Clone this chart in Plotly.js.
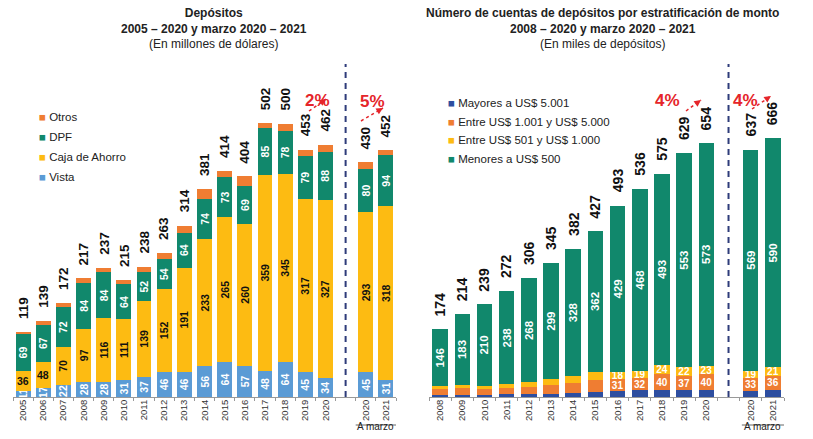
<!DOCTYPE html>
<html>
<head>
<meta charset="utf-8">
<script src="https://cdn.plot.ly/plotly-3.0.1.min.js"></script>
<style>html,body{margin:0;padding:0;background:#fff;}#chart{width:813px;height:439px;}</style>
</head>
<body>
<div id="chart"></div>
<script>
// ---------- Data: Depósitos (millones de dólares) ----------
const depYears = ['2005','2006','2007','2008','2009','2010','2011','2012','2013','2014','2015','2016','2017','2018','2019','2020'];
const depMarzo = ['Mar 2020','Mar 2021'];
const depMarzoLabels = ['2020','2021'];
const vista   = [11,17,22,28,28,31,37,46,46,56,64,57,48,64,45,34, 45,31];
const caja    = [36,48,70,97,116,111,139,152,191,233,265,260,359,345,317,327, 293,318];
const dpf     = [69,67,72,84,84,64,52,54,64,74,73,69,85,78,79,88, 80,94];
const otros   = [3,7,8,8,9,9,10,11,13,18,12,18,10,13,12,13, 12,9];
const depTotals = [119,139,172,217,237,215,238,263,314,381,414,404,502,500,453,462, 430,452];
const depHorizontal = ['2005','2006'];   // Caja labels drawn horizontally
const depGrowth = ['2%','5%'];

// ---------- Data: Número de cuentas (miles) ----------
const accYears = ['2008','2009','2010','2011','2012','2013','2014','2015','2016','2017','2018','2019','2020'];
const accMarzo = ['Mar 2020','Mar 2021'];
const accMarzoLabels = ['2020','2021'];
const mayores   = [6,6,6,7,7,9,10,12,15,17,18,17,18, 16,19];
const entre1001 = [14,16,15,17,19,22,26,32,31,32,40,37,40, 33,36];
const entre501  = [8,9,8,10,12,15,18,21,18,19,24,22,23, 19,21];
const menores   = [146,183,210,238,268,299,328,362,429,468,493,553,573, 569,590];
const accTotals = [174,214,239,272,306,345,382,427,493,536,575,629,654, 637,666];
const accFirstSmallLabel = 8; // small segment labels shown from 2016 on
const accGrowth = ['4%','4%'];

// ---------- Style ----------
const FONT = '"Liberation Sans", Arial, sans-serif';
const C = {teal:'#11886c', yellow:'#fdbb12', orange:'#ef7d32', vista:'#5b9bd5', navy:'#2d4ea0', red:'#e5252a', dash:'#2e3c7a'};
const W = 813, H = 439;
const px = x => x / W, py = y => 1 - y / H;

const GAP = ' ';
const depX = depYears.concat(depMarzo);
const depCats = depYears.concat([GAP], depMarzo);
const depTick = depYears.concat([''], depMarzoLabels);
const accX = accYears.concat(accMarzo);
const accCats = accYears.concat([GAP], accMarzo);
const accTick = accYears.concat([''], accMarzoLabels);

function bar(name, x, y, color, axes, opts) {
  return Object.assign({
    type:'bar', name, x, y, xaxis:axes[0], yaxis:axes[1],
    marker:{color, line:{width:0}}, showlegend:false,
    textposition:'inside', insidetextanchor:'middle', constraintext:'none',
    hoverinfo:'skip'
  }, opts || {});
}
const bfont = (size, color) => ({family:FONT, size, color, weight:'bold'});

const cajaText = depX.map((c,i) => depHorizontal.includes(c) ? '' : String(caja[i]));
const traces = [
  bar('Vista', depX, vista, C.vista, ['x','y'], {text:vista.map(String), textangle:-90, insidetextfont:bfont(10.5,'#fff'), width:0.74}),
  bar('Caja de Ahorro', depX, caja, C.yellow, ['x','y'], {text:cajaText, textangle:-90, insidetextfont:bfont(10.5,'#111'), width:0.74}),
  bar('DPF', depX, dpf, C.teal, ['x','y'], {text:dpf.map(String), textangle:-90, insidetextfont:bfont(10.5,'#fff'), width:0.74}),
  bar('Otros', depX, otros, C.orange, ['x','y'], {width:0.74}),

  bar('Mayores a US$ 5.001', accX, mayores, C.navy, ['x2','y2'], {width:0.7}),
  bar('Entre US$ 1.001 y US$ 5.000', accX, entre1001, C.orange, ['x2','y2'], {text:entre1001.map((v,i)=> i>=accFirstSmallLabel ? String(v) : ''), textangle:0, insidetextfont:bfont(10,'#fff'), width:0.7}),
  bar('Entre US$ 501 y US$ 1.000', accX, entre501, C.yellow, ['x2','y2'], {text:entre501.map((v,i)=> i>=accFirstSmallLabel ? String(v) : ''), textangle:0, insidetextfont:bfont(10,'#fff'), width:0.7}),
  bar('Menores a US$ 500', accX, menores, C.teal, ['x2','y2'], {text:menores.map(String), textangle:-90, insidetextfont:bfont(11.5,'#fff'), width:0.7})
];

const annotations = [];
// totals (category index used for x)
depX.forEach((c,i) => annotations.push({xref:'x', yref:'y', x:depCats.indexOf(c), y:depTotals[i], text:String(depTotals[i]), textangle:-90, yanchor:'bottom', xanchor:'center', yshift:11, showarrow:false, font:bfont(13.5,'#111')}));
accX.forEach((c,i) => annotations.push({xref:'x2', yref:'y2', x:accCats.indexOf(c), y:accTotals[i], text:String(accTotals[i]), textangle:-90, yanchor:'bottom', xanchor:'center', yshift:11, showarrow:false, font:bfont(14,'#111')}));
// horizontal caja labels
depX.forEach((c,i) => { if (depHorizontal.includes(c)) annotations.push({xref:'x', yref:'y', x:depCats.indexOf(c), y:vista[i] + caja[i]/2, text:String(caja[i]), showarrow:false, font:bfont(10.5,'#111')}); });

// titles
annotations.push({xref:'paper', yref:'paper', x:px(214), y:py(4), xanchor:'center', yanchor:'top', showarrow:false, align:'center',
  text:'<b>Depósitos</b><br><b>2005 – 2020 y marzo 2020 – 2021</b><br>(En millones de dólares)', font:{family:FONT, size:12, color:'#222'}});
annotations.push({xref:'paper', yref:'paper', x:px(602), y:py(4), xanchor:'center', yanchor:'top', showarrow:false, align:'center',
  text:'<b>Número de cuentas de depósitos por estratificación de monto</b><br><b>2008 – 2020 y marzo 2020 – 2021</b><br>(En miles de depósitos)', font:{family:FONT, size:12, color:'#222'}});

// legends
const depLegend = [['Otros', C.orange], ['DPF', C.teal], ['Caja de Ahorro', C.yellow], ['Vista', C.vista]];
depLegend.forEach((d,k) => annotations.push({xref:'paper', yref:'paper', x:px(37), y:py(117 + k*20), xanchor:'left', yanchor:'middle', showarrow:false,
  text:'<span style="color:'+d[1]+'">■</span> '+d[0], font:{family:FONT, size:11.5, color:'#222'}}));
const accLegend = [['Mayores a US$ 5.001', C.navy], ['Entre US$ 1.001 y US$ 5.000', C.orange], ['Entre US$ 501 y US$ 1.000', C.yellow], ['Menores a US$ 500', C.teal]];
accLegend.forEach((d,k) => annotations.push({xref:'paper', yref:'paper', x:px(446), y:py(103 + k*18.5), xanchor:'left', yanchor:'middle', showarrow:false,
  text:'<span style="color:'+d[1]+'">■</span> '+d[0], font:{family:FONT, size:11.5, color:'#222'}}));

// A marzo
annotations.push({xref:'x', yref:'paper', x:17.5, y:py(433.5), text:'A marzo', showarrow:false, font:{family:FONT, size:10, color:'#222'}});
annotations.push({xref:'x2', yref:'paper', x:14.55, y:py(434), text:'A marzo', showarrow:false, font:{family:FONT, size:10, color:'#222'}});

// growth labels with dotted arrows
const growth = [
  {t:depGrowth[0], cx:317, cy:89, tail:[309,111], head:[326,99]},
  {t:depGrowth[1], cx:372, cy:90, tail:[361,121], head:[383,108]},
  {t:accGrowth[0], cx:682, cy:89, tail:[686,111], head:[701,100]},
  {t:accGrowth[1], cx:760, cy:89, tail:[752,109], head:[771,96]}
];
const shapes = [];
growth.forEach(g => {
  annotations.push({xref:'paper', yref:'paper', x:px(g.cx), y:py(g.cy), text:'<b>'+g.t+'</b>', showarrow:false, font:bfont(17, C.red)});
  shapes.push({type:'line', xref:'paper', yref:'paper', x0:px(g.tail[0]), y0:py(g.tail[1]), x1:px(g.head[0]), y1:py(g.head[1]), line:{color:C.red, width:1.5, dash:'dot'}});
  const dx = g.tail[0]-g.head[0], dy = g.tail[1]-g.head[1], L = Math.hypot(dx,dy);
  annotations.push({xref:'paper', yref:'paper', x:px(g.head[0]), y:py(g.head[1]), text:'', showarrow:true, arrowhead:2, arrowsize:0.9, arrowwidth:1.5, arrowcolor:C.red, ax:dx/L*5, ay:dy/L*5});
});

// dashed separators
shapes.push({type:'line', xref:'x', yref:'paper', x0:GAP, x1:GAP, y0:py(397), y1:py(64), line:{color:C.dash, width:2, dash:'6px,5px'}});
shapes.push({type:'line', xref:'x2', yref:'paper', x0:GAP, x1:GAP, y0:py(397), y1:py(64), line:{color:C.dash, width:2, dash:'6px,5px'}});
// A marzo lines
shapes.push({type:'line', xref:'x', yref:'paper', x0:16.5, x1:18.5, y0:py(425), y1:py(425), line:{color:'#666', width:1}});
shapes.push({type:'line', xref:'x2', yref:'paper', x0:13.6, x1:15.5, y0:py(425), y1:py(425), line:{color:'#666', width:1}});

function xaxisCfg(domain, cats, ticks) {
  return {domain, type:'category', categoryorder:'array', categoryarray:cats, tickmode:'array', tickvals:cats, ticktext:ticks,
    range:[-0.5, cats.length-0.5], tickangle:-90, tickfont:{family:FONT, size:9.5, color:'#333'},
    showline:true, linecolor:'#999', linewidth:1, ticks:'outside', tickson:'boundaries', ticklen:3, tickcolor:'#999',
    ticklabelstandoff:-2,
    showgrid:false, zeroline:false, fixedrange:true, automargin:false};
}
function yaxisCfg(range, anchor) {
  return {domain:[py(397), py(60)], range, visible:false, showgrid:false, zeroline:false, fixedrange:true, anchor};
}

const layout = {
  width:W, height:H, margin:{l:0, r:0, t:0, b:0}, paper_bgcolor:'#fff', plot_bgcolor:'rgba(0,0,0,0)',
  barmode:'stack', showlegend:false,
  xaxis: Object.assign(xaxisCfg([px(13), px(396)], depCats, depTick), {anchor:'y'}),
  yaxis: yaxisCfg([0, 617], 'x'),
  xaxis2: Object.assign(xaxisCfg([px(429), px(784)], accCats, accTick), {anchor:'y2'}),
  yaxis2: yaxisCfg([0, 868], 'x2'),
  annotations, shapes,
  font:{family:FONT}
};

Plotly.newPlot('chart', traces, layout, {staticPlot:true, displayModeBar:false});
</script>
</body>
</html>
